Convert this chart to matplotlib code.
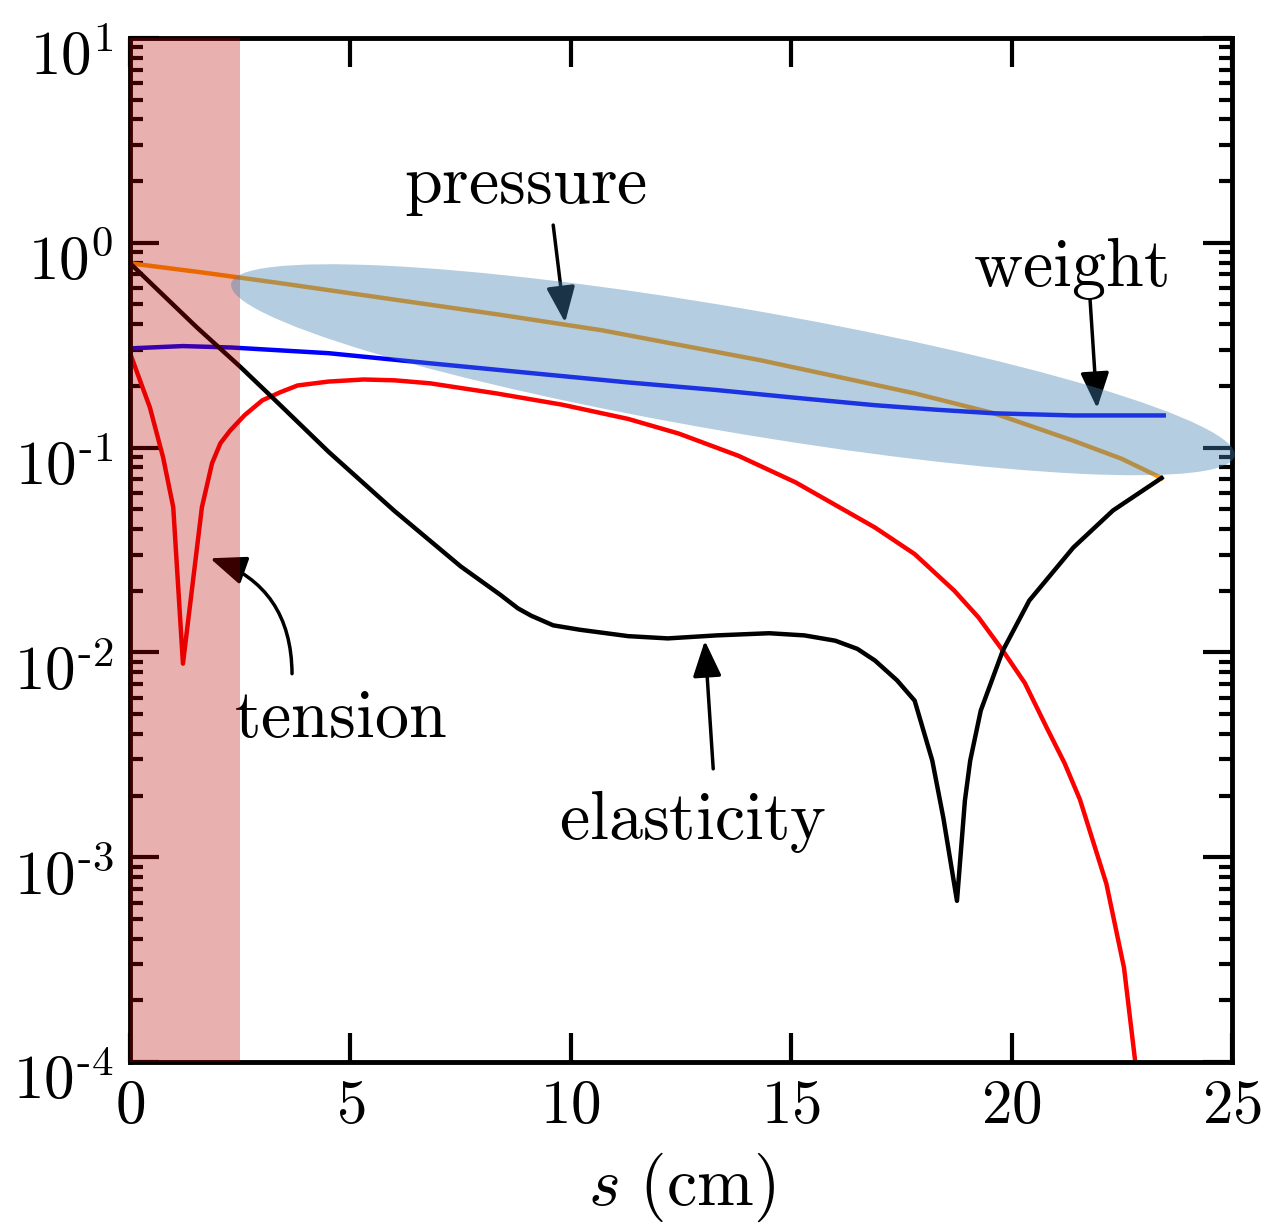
"""Log-scale force balance along the stem: pressure, weight, elasticity, tension."""
import math

import matplotlib
matplotlib.use("Agg")
import matplotlib.pyplot as plt
from matplotlib.patches import Ellipse
from matplotlib.transforms import ScaledTranslation
from matplotlib.ticker import FixedLocator, FuncFormatter, LogLocator

plt.rcParams["mathtext.fontset"] = "cm"
plt.rcParams["font.family"] = ["DejaVu Serif"]

# values
pressure_s = [0, 1.6, 3.5, 6.1, 8.4, 10.7, 12.5, 14.3, 16.0, 17.8, 19.6, 21.4, 22.5, 23.4]
pressure = [0.794, 0.718, 0.631, 0.524, 0.445, 0.374, 0.316, 0.267, 0.223, 0.184,
            0.147, 0.108, 0.0881, 0.0710]

weight_s = [0, 1.2, 2.3, 4.5, 6.8, 9.1, 11.3, 13.3, 15.1, 16.9, 18.3, 19.6, 21.4, 23.45]
weight = [0.305, 0.313, 0.308, 0.289, 0.258, 0.231, 0.208, 0.191, 0.175, 0.161,
          0.153, 0.147, 0.1435, 0.1435]

elastic_s = [0, 1.5, 2.5, 3.2, 4.5, 6.0, 7.5, 8.4, 8.8, 9.1, 9.6, 10.2, 11.3, 12.2, 13.3,
             14.5, 15.3, 16.0, 16.5, 16.9, 17.4, 17.8, 18.2, 18.45, 18.76, 18.94, 19.06,
             19.3, 19.8, 20.4, 21.4, 22.3, 23.4]
elastic = [0.794, 0.389, 0.248, 0.178, 0.0955, 0.0490, 0.0263, 0.0191, 0.0164, 0.0151,
           0.01355, 0.0129, 0.0120, 0.0117, 0.0121, 0.0124, 0.0121, 0.0114, 0.0104,
           0.00912, 0.00730, 0.00581, 0.00296, 0.00156, 0.000612, 0.00189, 0.00296,
           0.0052, 0.0102, 0.0179, 0.0325, 0.0493, 0.0710]

tension_s = [0, 0.45, 0.75, 0.98, 1.2, 1.63, 1.86, 2.05, 2.27, 2.6, 3.0, 3.4, 3.8, 4.5,
             5.3, 6.0, 6.8, 8.3, 9.8, 11.3, 12.45, 13.8, 15.1, 16.9, 17.8, 18.7, 19.25,
             19.8, 20.3, 20.8, 21.2, 21.55, 22.15, 22.55, 22.8, 22.95]
tension = [0.289, 0.157, 0.0895, 0.0511, 0.00881, 0.0511, 0.0838, 0.105, 0.121, 0.144,
           0.170, 0.186, 0.201, 0.210, 0.215, 0.213, 0.206, 0.184, 0.162, 0.138, 0.117,
           0.0912, 0.0676, 0.0407, 0.0302, 0.0200, 0.0148, 0.0102, 0.00708, 0.00427,
           0.00288, 0.00191, 0.000741, 0.000288, 0.000102, 0.0000501]

tension_zone = (0, 2.5)
x_ticks = [0, 5, 10, 15, 20, 25]

fig = plt.figure(figsize=(12.7, 12.25), dpi=100)
ax = fig.add_axes([0.1024, 0.1331, 0.8677, 0.8359])

ax.plot(pressure_s, pressure, color=(1.0, 0.6, 0.0), lw=3.2, zorder=2)
ax.plot(weight_s, weight, color="#0000ff", lw=3.2, zorder=2)
ax.plot(tension_s, tension, color="#ff0000", lw=3.2, zorder=2)
ax.plot(elastic_s, elastic, color="black", lw=3.2, zorder=2)

ax.set_yscale("log")
ax.set_xlim(0, 25)
ax.set_ylim(1e-4, 10)

arrow = dict(arrowstyle="-|>,head_length=0.55,head_width=0.22", color="black",
             lw=2.5, mutation_scale=40, shrinkA=0, shrinkB=0)
txt = dict(fontsize=49, ha="center", va="center", zorder=3)

ax.annotate("", xy=(9.87, 0.408), xytext=(9.6, 1.22), arrowprops=arrow, zorder=3)
ax.text(8.96, 1.91, r"$\mathrm{pressure}$", **txt)

ax.annotate("", xy=(21.94, 0.1555), xytext=(21.78, 0.525), arrowprops=arrow, zorder=3)
ax.text(21.32, 0.751, r"$\mathrm{weight}$", **txt)

ax.annotate("", xy=(1.815, 0.0288), xytext=(3.675, 0.00787),
            arrowprops=dict(arrow, connectionstyle="arc3,rad=0.35"), zorder=3)
ax.text(4.76, 0.00474, r"$\mathrm{tension}$", **txt)

ax.annotate("", xy=(13.04, 0.0114), xytext=(13.23, 0.0027), arrowprops=arrow, zorder=3)
ax.text(12.77, 0.0015, r"$\mathrm{elasticity}$", **txt)

# shaded highlights
ax.axvspan(*tension_zone, color=(0.733, 0.0, 0.0), alpha=0.31, lw=0, zorder=4)
ell_tr = fig.dpi_scale_trans + ScaledTranslation(0.547, 0.676, ax.transAxes)
ax.add_patch(Ellipse((0, 0), 10.18, 1.24, angle=-9.73, transform=ell_tr,
                     facecolor="steelblue", alpha=0.4, lw=0, zorder=4, clip_on=False))

ax.xaxis.set_major_locator(FixedLocator(x_ticks))
ax.xaxis.set_major_formatter(FuncFormatter(lambda v, p: r"$%d$" % v))
ax.yaxis.set_major_locator(LogLocator(base=10, numticks=10))
ax.yaxis.set_minor_locator(LogLocator(base=10, subs=range(2, 10), numticks=10))


def decade(v, pos):
    e = round(math.log10(v))
    if e < 0:
        return r"$10^{\text{-}%d}$" % -e
    return r"$10^{%d}$" % e


ax.yaxis.set_major_formatter(FuncFormatter(decade))

ax.tick_params(which="both", direction="in", top=True, right=True, width=3, labelsize=44)
ax.tick_params(which="major", length=21)
ax.tick_params(which="minor", length=9.5)
ax.tick_params(axis="y", pad=12)
ax.tick_params(axis="x", pad=10)
for sp in ax.spines.values():
    sp.set_linewidth(3.5)

fig.canvas.draw()
shift = ScaledTranslation(0, -0.14, fig.dpi_scale_trans)
for lab in ax.get_yticklabels():
    lab.set_transform(lab.get_transform() + shift)

ax.set_xlabel(r"$s\ (\mathrm{cm})$", fontsize=49, labelpad=11)

fig.savefig("out.png", dpi=100)
